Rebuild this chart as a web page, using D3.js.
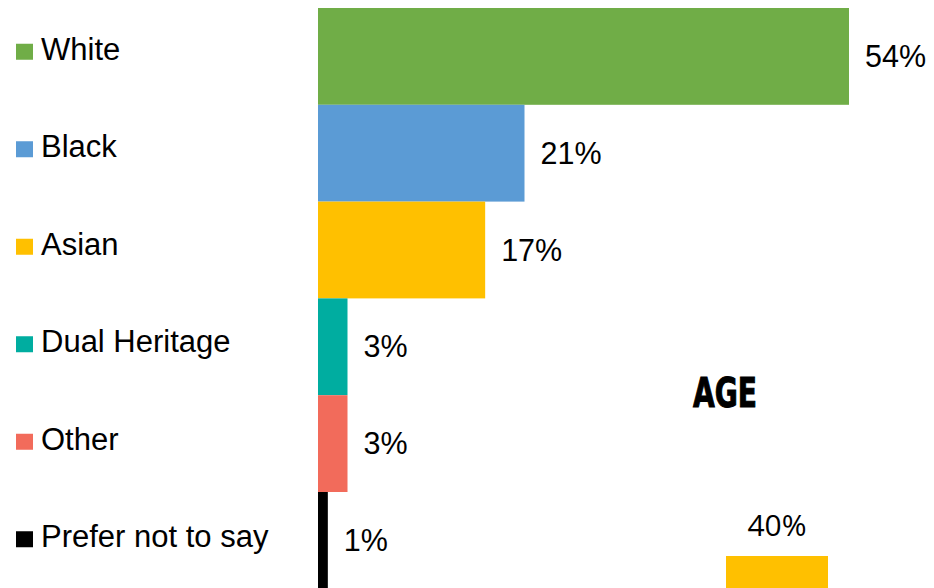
<!DOCTYPE html>
<html>
<head>
<meta charset="utf-8">
<script src="https://cdn.jsdelivr.net/npm/d3@7"></script>
<style>
  body { margin: 0; background: #fff; }
  svg { display: block; }
</style>
</head>
<body>
<div id="chart"></div>
<script>
// ethnicity data
const categories = ["White", "Black", "Asian", "Dual Heritage", "Other", "Prefer not to say"];
const values = [54, 21, 17, 3, 3, 1];
const colors = ["#70AD47", "#5B9BD5", "#FFC000", "#00ADA0", "#F26B5B", "#000000"];

// age chart, only the top of one bar is visible
const ageCategories = ["age1"];
const ageValues = [40];
const ageColors = ["#FFC000"];

const width = 934, height = 588;

const svg = d3.select("#chart").append("svg")
    .attr("width", width)
    .attr("height", height);

let x = d3.scaleLinear()
    .domain([0, 54])
    .range([318, 849]);

let y = d3.scaleBand()
    .domain(categories)
    .range([8, 8 + 6 * 96.8])
    .padding(0);

// legend rows are spaced a bit differently from the bars
let yLeg = d3.scaleBand()
    .domain(categories)
    .range([3, 3 + 6 * 97.5]);

const rows = categories.map((c, i) => ({cat: c, val: values[i], col: colors[i]}));

svg.selectAll("rect.bar")
    .data(rows)
    .join("rect")
    .attr("class", "bar")
    .attr("x", x(0))
    .attr("y", d => y(d.cat))
    .attr("width", d => x(d.val) - x(0))
    .attr("height", y.bandwidth())
    .attr("fill", d => d.col);

svg.selectAll("text.val")
    .data(rows)
    .join("text")
    .attr("class", "val")
    .attr("x", d => x(d.val) + 16)
    .attr("y", d => y(d.cat) + y.bandwidth() / 2 + 10.5)
    .style("font-family", "'Liberation Sans', Arial, sans-serif")
    .style("font-size", "30.5px")
    .attr("fill", "#000")
    .text(d => d.val + "%");

// legend
const leg = svg.selectAll("g.leg")
    .data(rows)
    .join("g")
    .attr("class", "leg")
    .attr("transform", d => `translate(16, ${yLeg(d.cat) + yLeg.bandwidth() / 2})`);

leg.append("rect")
    .attr("x", 0)
    .attr("y", -8)
    .attr("width", 17)
    .attr("height", 16)
    .attr("fill", d => d.col);

leg.append("text")
    .attr("x", 25)
    .attr("y", 8)
    .style("font-family", "'Liberation Sans', Arial, sans-serif")
    .style("font-size", "31px")
    .attr("fill", "#000")
    .text(d => d.cat);

// AGE chart title
svg.append("text")
    .attr("x", 693)
    .attr("y", 406.5)
    .attr("textLength", 64)
    .attr("lengthAdjust", "spacingAndGlyphs")
    .style("font-family", "'Liberation Sans Narrow', 'DejaVu Sans Condensed', sans-serif")
    .style("font-weight", "bold")
    .style("font-size", "40px")
    .attr("fill", "#000")
    .attr("stroke", "#000")
    .attr("stroke-width", 1)
    .text("AGE");

let xAge = d3.scaleBand()
    .domain(ageCategories)
    .range([726, 828]);

let yAge = d3.scaleLinear()
    .domain([0, 40])
    .range([900, 556]);

svg.selectAll("rect.age")
    .data(ageValues)
    .join("rect")
    .attr("class", "age")
    .attr("x", (d, i) => xAge(ageCategories[i]))
    .attr("y", d => yAge(d))
    .attr("width", xAge.bandwidth())
    .attr("height", d => yAge(0) - yAge(d))
    .attr("fill", (d, i) => ageColors[i]);

svg.selectAll("text.ageval")
    .data(ageValues)
    .join("text")
    .attr("class", "ageval")
    .attr("x", (d, i) => xAge(ageCategories[i]) + xAge.bandwidth() / 2)
    .attr("y", d => yAge(d) - 20)
    .attr("text-anchor", "middle")
    .style("font-family", "'Open Sans', sans-serif")
    .style("font-size", "30px")
    .attr("fill", "#000")
    .text(d => d + "%");
</script>
</body>
</html>
